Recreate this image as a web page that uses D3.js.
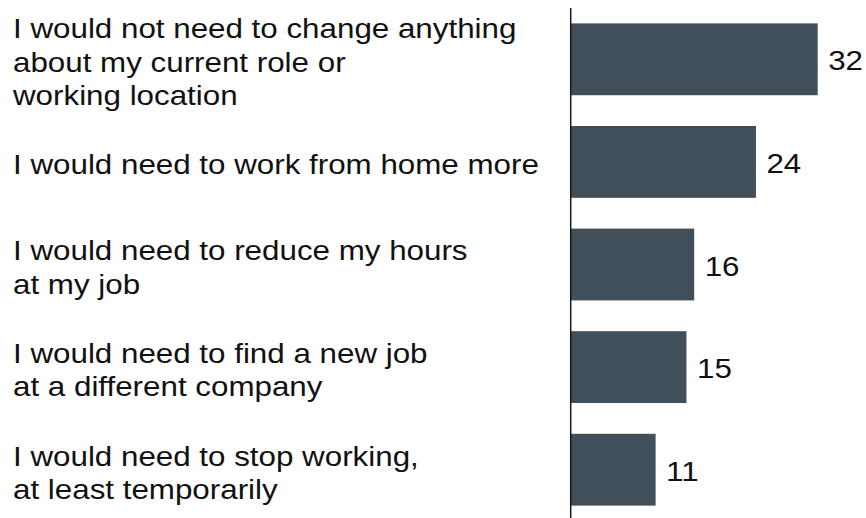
<!DOCTYPE html>
<html>
<head>
<meta charset="utf-8">
<script src="https://cdn.jsdelivr.net/npm/d3@7/dist/d3.min.js"></script>
<style>
  html, body { margin: 0; padding: 0; background: #ffffff; }
  svg { display: block; }
  text { font-family: "Liberation Sans", Arial, Helvetica, sans-serif; fill: #111111; }
</style>
</head>
<body>
<svg id="chart" width="866" height="518"></svg>
<script>
// Survey responses, one row per answer (wrapped as shown)
const categories = [
  ["I would not need to change anything", "about my current role or", "working location"],
  ["I would need to work from home more"],
  ["I would need to reduce my hours", "at my job"],
  ["I would need to find a new job", "at a different company"],
  ["I would need to stop working,", "at least temporarily"]
];
const values = [32, 24, 16, 15, 11];

const W = 866, H = 518;
const axisX = 570.7;
const fontSize = 28.5;
const stretch = 1.1;      // text is set slightly wide
const lineHeight = 33.4;

const svg = d3.select("#chart");

const keys = categories.map((c, i) => i);

const y = d3.scaleBand()
  .domain(keys)
  .range([8, 521])
  .paddingInner(0.3)
  .paddingOuter(0.15);

const x = d3.scaleLinear()
  .domain([0, 32])
  .range([axisX, axisX + 247]);

// Bars
svg.append("g")
  .selectAll("rect")
  .data(values)
  .join("rect")
  .attr("x", x(0))
  .attr("y", (d, i) => y(i))
  .attr("width", d => x(d) - x(0))
  .attr("height", y.bandwidth())
  .attr("fill", "#404f59");

// Vertical axis line
svg.append("line")
  .attr("x1", axisX).attr("x2", axisX)
  .attr("y1", y.range()[0]).attr("y2", y.range()[1])
  .attr("stroke", "#1a1a1a")
  .attr("stroke-width", 1.5);

// Category labels on the left
const catG = svg.append("g");
categories.forEach((lines, i) => {
  const cy = y(i) + y.bandwidth() / 2 + 12.5;
  lines.forEach((line, j) => {
    const by = cy + (j - (lines.length - 1) / 2) * lineHeight;
    catG.append("text")
      .attr("transform", `translate(13,${by}) scale(${stretch},1)`)
      .attr("font-size", fontSize)
      .text(line);
  });
});

// Value labels at bar ends
svg.append("g")
  .selectAll("text")
  .data(values)
  .join("text")
  .attr("transform", (d, i) => `translate(${x(d) + 10.5},${y(i) + y.bandwidth() / 2 + 11}) scale(${stretch},1)`)
  .attr("font-size", fontSize)
  .text(d => d);
</script>
</body>
</html>
